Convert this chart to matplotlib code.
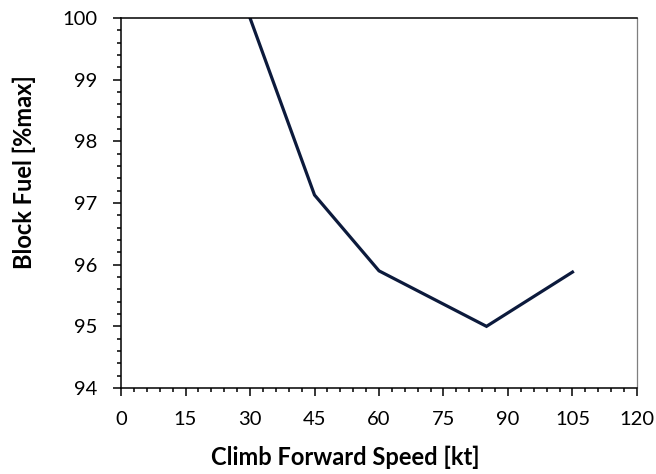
import matplotlib.pyplot as plt
from matplotlib.ticker import MultipleLocator

# climb forward speed [kt] vs block fuel [% of max]
speed = [30, 45, 60, 85, 105]
block_fuel = [100.0, 97.13, 95.9, 95.0, 95.88]

x_ticks = [0, 15, 30, 45, 60, 75, 90, 105, 120]
y_ticks = [94, 95, 96, 97, 98, 99, 100]

plt.rcParams['font.family'] = ['Lato', 'DejaVu Sans']

fig = plt.figure(figsize=(6.56, 4.74), dpi=100)
ax = fig.add_axes([0.1845, 0.1814, 0.7865, 0.7806])

ax.plot(speed, block_fuel, color='#0c1a3c', linewidth=2.3, solid_joinstyle='miter')

ax.set_xlim(0, 120)
ax.set_ylim(94, 100)
ax.set_xticks(x_ticks)
ax.set_yticks(y_ticks)
ax.xaxis.set_minor_locator(MultipleLocator(3))
ax.yaxis.set_minor_locator(MultipleLocator(0.2))

ax.tick_params(which='major', direction='out', length=6, width=1.1, labelsize=14.5)
ax.tick_params(which='minor', direction='out', length=3, width=1.1)
ax.tick_params(axis='x', pad=10.5)
ax.tick_params(axis='y', pad=11)

for side in ['left', 'bottom', 'top']:
    ax.spines[side].set_linewidth(1.1)
    ax.spines[side].set_color('black')
ax.spines['right'].set_linewidth(0.9)
ax.spines['right'].set_color('#7f7f7f')

ax.set_xlabel('Climb Forward Speed [kt]', fontsize=17, fontweight='bold', va='center')
ax.set_ylabel('Block Fuel [%max]', fontsize=17, fontweight='bold', va='center')
ax.xaxis.set_label_coords(0.435, -0.186)
ax.yaxis.set_label_coords(-0.188, 0.584)

fig.savefig('out.png', dpi=100)
